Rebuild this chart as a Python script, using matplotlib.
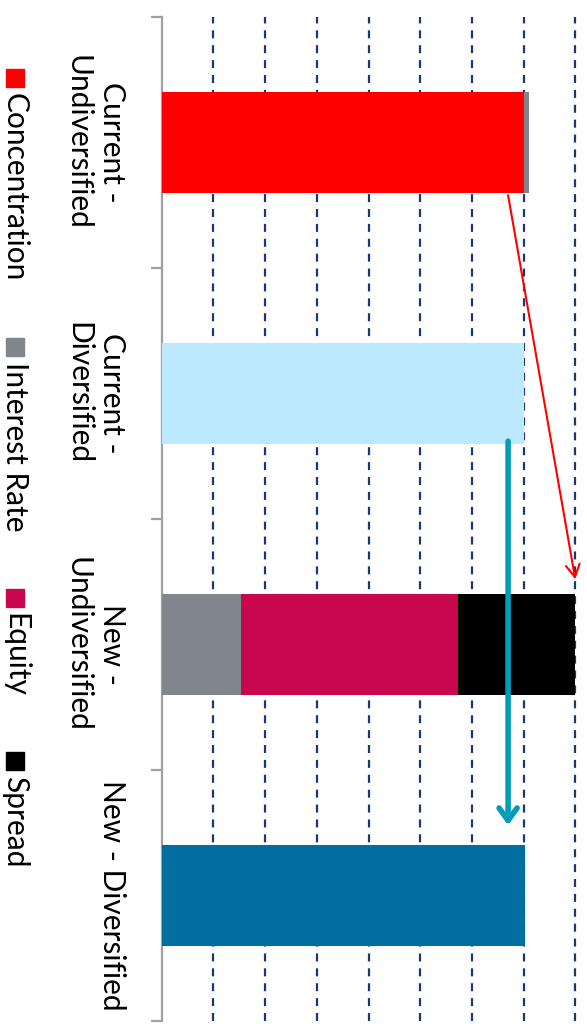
import matplotlib
matplotlib.use("Agg")
import matplotlib.pyplot as plt
from matplotlib.patches import FancyArrowPatch, Rectangle

plt.rcParams['font.family'] = ['Lato', 'DejaVu Sans']

categories = ["Current -\nUndiversified", "Current -\nDiversified",
              "New -\nUndiversified", "New - Diversified"]
series_names = ["Concentration", "Interest Rate", "Equity", "Spread"]

# stacked components per scenario (order: bottom segment first)
current_undiv = {"Concentration": 7.0, "Interest Rate": 0.1}
current_div_total = 7.0
new_undiv = {"Interest Rate": 1.54, "Equity": 4.2, "Spread": 2.26}
new_div_total = 7.02

colors = {
    "Concentration": "#FF0000",
    "Interest Rate": "#80868C",
    "Equity": "#C8074F",
    "Spread": "#000000",
}
current_div_color = "#BDE9FF"
new_div_color = "#006FA0"
grid_ticks = [1, 2, 3, 4, 5, 6, 7, 8]

W, H = 587, 1031
fig = plt.figure(figsize=(W / 100, H / 100), dpi=100)
ax_left, ax_right, ax_top, ax_bottom = 161.7, 587, 17, 1021
ax = fig.add_axes([ax_left / W, 1 - ax_bottom / H,
                   (ax_right - ax_left) / W, (ax_bottom - ax_top) / H])

bar_h = 0.4
# Current - Undiversified
left = 0
for name, v in current_undiv.items():
    ax.barh(0, v, left=left, height=bar_h, color=colors[name], zorder=3)
    left += v
# Current - Diversified
ax.barh(1, current_div_total, height=bar_h, color=current_div_color, zorder=3)
# New - Undiversified
left = 0
for name, v in new_undiv.items():
    ax.barh(2, v, left=left, height=bar_h, color=colors[name], zorder=3)
    left += v
# New - Diversified
ax.barh(3, new_div_total, height=bar_h, color=new_div_color, zorder=3)

ax.set_ylim(3.5, -0.5)
ax.set_xlim(0, (ax_right - ax_left) / 51.7)

# value gridlines, no labels
ax.set_xticks(grid_ticks)
ax.tick_params(axis='x', length=0, labelbottom=False)
ax.xaxis.grid(True, color="#17377A", linewidth=1.6, dashes=(3.6, 3.1))
ax.set_axisbelow(True)

# category axis
for s in ["top", "right", "bottom"]:
    ax.spines[s].set_visible(False)
ax.spines["left"].set_color("#A0A0A0")
ax.spines["left"].set_linewidth(1.6)
ax.set_yticks(range(len(categories)))
ax.set_yticklabels(categories, rotation=-90, va="center", ha="right",
                   multialignment="center", fontsize=21.5, linespacing=1.25)
ax.tick_params(axis='y', which='major', length=0, pad=26)
ax.set_yticks([-0.5, 0.5, 1.5, 2.5, 3.5], minor=True)
ax.tick_params(axis='y', which='minor', length=8, width=1.6, color="#A0A0A0")

# arrows showing the move between scenarios
undiv_change = FancyArrowPatch((6.7, 0.21), (sum(new_undiv.values()), 1.74),
                               arrowstyle="->,head_length=9,head_width=5",
                               color="#FF0000", lw=1.5, zorder=5,
                               shrinkA=0, shrinkB=0)
ax.add_patch(undiv_change)
div_change = FancyArrowPatch((6.7, 1.19), (6.7, 2.72),
                             arrowstyle="->,head_length=9,head_width=6.5",
                             color="#009CBA", lw=4, zorder=5,
                             shrinkA=0, shrinkB=0)
ax.add_patch(div_change)

# legend, rotated along the left edge
legend_y = [69, 338, 589, 752]
for name, y0 in zip(series_names, legend_y):
    fig.patches.append(Rectangle((6 / W, 1 - (y0 + 18) / H), 18 / W, 18 / H,
                                 transform=fig.transFigure,
                                 color=colors[name]))
    fig.text(15 / W, 1 - (y0 + 24) / H, name, rotation=-90, fontsize=21.5,
             ha="center", va="top", color="#000000")

fig.savefig("out.png", dpi=100)
